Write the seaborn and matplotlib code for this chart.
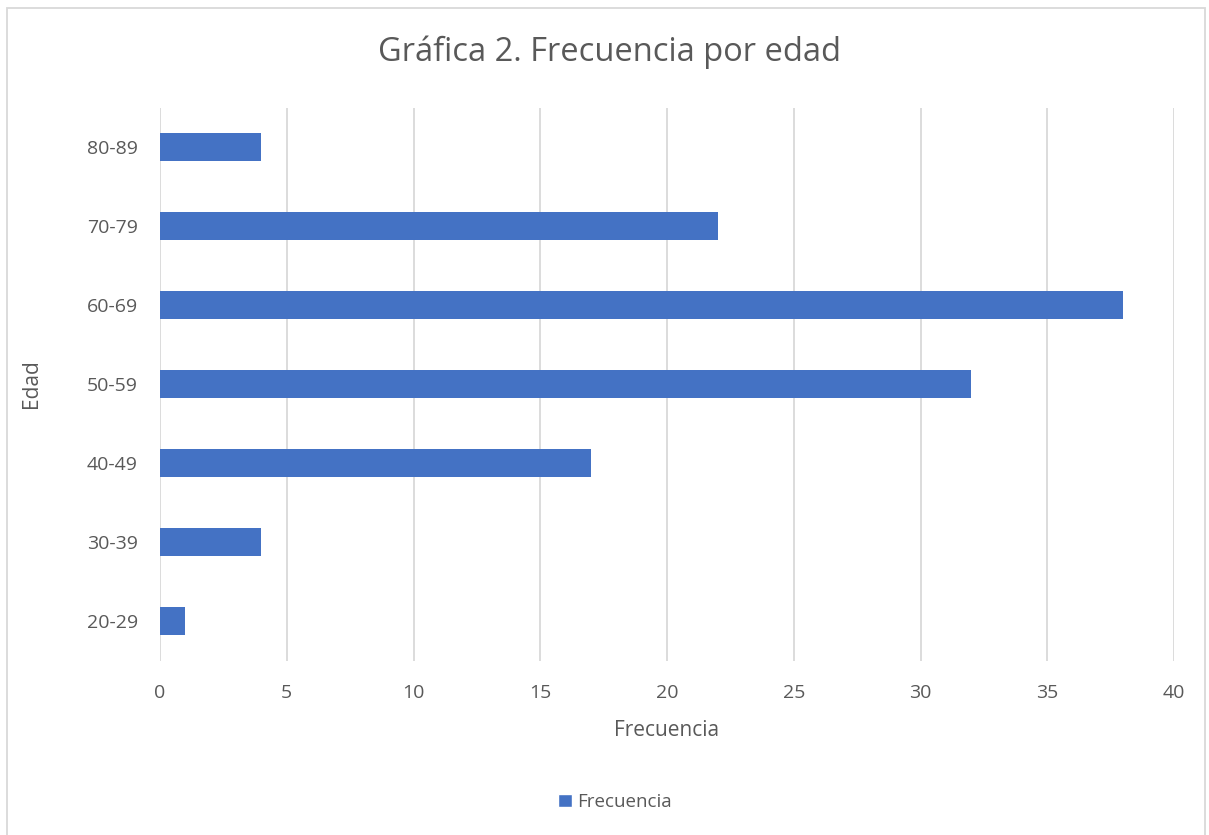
import matplotlib
matplotlib.use("Agg")
import matplotlib.pyplot as plt
import seaborn as sns
import pandas as pd
from matplotlib.patches import Rectangle, Patch

edades = ["20-29", "30-39", "40-49", "50-59", "60-69", "70-79", "80-89"]
frecuencia = [1, 4, 17, 32, 38, 22, 4]
xticks = [0, 5, 10, 15, 20, 25, 30, 35, 40]

df = pd.DataFrame({"Edad": edades, "Frecuencia": frecuencia})
order = edades[::-1]

sns.set_theme(style="white")
plt.rcParams['font.family'] = ['Open Sans', 'DejaVu Sans']
txt = "#595959"
blue = "#4472C4"

W, H = 1209, 835
fig = plt.figure(figsize=(W / 100, H / 100), dpi=100)
fig.patches.append(Rectangle((7 / W, -0.01), 1 - 7 / W - 4 / W, 1.01 - 8 / H, transform=fig.transFigure,
                             fill=False, edgecolor="#D9D9D9", linewidth=1.3))

ax = fig.add_axes([160 / W, 1 - 660.5 / H, (1174 - 160) / W, (660.5 - 107.5) / H])
sns.barplot(data=df, y="Edad", x="Frecuencia", order=order, color=blue,
            width=0.36, orient="h", ax=ax, saturation=1, linewidth=0)
ax.set_xlim(0, 40)
ax.set_xticks(xticks)
ax.set_xticklabels([str(t) for t in xticks])
ax.grid(axis="x", color="#D9D9D9", linewidth=1.3)
ax.set_axisbelow(True)
for s in ax.spines.values():
    s.set_visible(False)
ax.tick_params(axis="both", length=0, labelsize=14, colors=txt)
ax.tick_params(axis="x", pad=17)
ax.tick_params(axis="y", pad=16)
ax.set_xlabel("Frecuencia", fontsize=15, color=txt, labelpad=13)
ax.set_ylabel("Edad", fontsize=15, color=txt, labelpad=32)

fig.text(610 / W, 1 - 52 / H, "Gráfica 2. Frecuencia por edad", ha="center", va="center",
         fontsize=23.5, color=txt)

leg = fig.legend(handles=[Patch(facecolor=blue, label="Frecuencia")], loc="center",
                 bbox_to_anchor=(615 / W, 1 - 802 / H), frameon=False, fontsize=13.5,
                 handlelength=0.75, handleheight=0.75, handletextpad=0.3, labelcolor=txt)

fig.savefig("out.png", dpi=100)
